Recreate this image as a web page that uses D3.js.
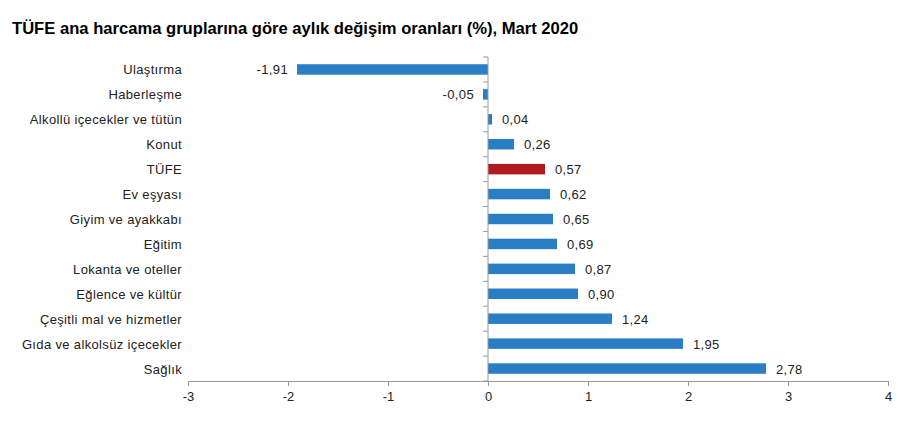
<!DOCTYPE html>
<html><head><meta charset="utf-8">
<script src="https://cdn.jsdelivr.net/npm/d3@7"></script>
<style>body{margin:0;background:#fff}svg{display:block}</style>
</head><body>
<svg id="c" width="908" height="421"></svg>
<script>
const categories = ["Ulaştırma","Haberleşme","Alkollü içecekler ve tütün","Konut","TÜFE","Ev eşyası","Giyim ve ayakkabı","Eğitim","Lokanta ve oteller","Eğlence ve kültür","Çeşitli mal ve hizmetler","Gıda ve alkolsüz içecekler","Sağlık"];
const values = [-1.91,-0.05,0.04,0.26,0.57,0.62,0.65,0.69,0.87,0.90,1.24,1.95,2.78];
const xTicks = [-3,-2,-1,0,1,2,3,4];
const title = "TÜFE ana harcama gruplarına göre aylık değişim oranları (%), Mart 2020";

const svg = d3.select("#c");
const font = "'Liberation Sans', Arial, sans-serif";
const fs = 13;
const ls = "0.35px";
const x = d3.scaleLinear().domain([-3,4]).range([188,888]);
const y = d3.scaleBand().domain(categories).range([57,381]).paddingInner(0.58).paddingOuter(0.29);

svg.append("text").attr("x",12).attr("y",34).attr("font-family",font).attr("font-weight","bold")
  .attr("font-size",16.6).attr("fill","#000").text(title);

// bars
svg.selectAll("rect.bar").data(values).join("rect")
  .attr("x",d=>x(Math.min(0,d))).attr("width",d=>Math.abs(x(d)-x(0)))
  .attr("y",(d,i)=>y(categories[i])).attr("height",y.bandwidth())
  .attr("fill",(d,i)=>categories[i]==="TÜFE"?"#B0191E":"#2A7FC4");

// value labels
const fmt = v => v.toFixed(2).replace(".",",");
svg.selectAll("text.val").data(values).join("text")
  .attr("x",d=>d<0?x(d)-9:x(d)+10)
  .attr("y",(d,i)=>y(categories[i])+y.bandwidth()/2+5)
  .attr("text-anchor",d=>d<0?"end":"start")
  .attr("font-family",font).attr("font-size",fs).attr("letter-spacing",ls).attr("fill","#222")
  .text(fmt);

// category labels
svg.selectAll("text.cat").data(categories).join("text")
  .attr("x",182).attr("y",d=>y(d)+y.bandwidth()/2+5)
  .attr("text-anchor","end").attr("font-family",font).attr("font-size",fs).attr("letter-spacing",ls).attr("fill","#222")
  .text(d=>d);

// x axis
const xa = svg.append("g").attr("transform","translate(0,381)")
  .call(d3.axisBottom(x).tickValues(xTicks).tickSize(5).tickFormat(d=>d));
xa.select(".domain").attr("stroke","#999");
xa.selectAll(".tick line").attr("stroke","#999");
xa.selectAll(".tick text").attr("font-family",font).attr("font-size",fs).attr("fill","#222").attr("dy","0.9em");

// y axis at zero with ticks at band boundaries
const step = y.step();
const bounds = d3.range(categories.length+1).map(i=>57+i*step);
svg.append("line").attr("x1",x(0)).attr("x2",x(0)).attr("y1",57).attr("y2",381).attr("stroke","#999");
svg.selectAll("line.yt").data(bounds).join("line")
  .attr("x1",x(0)-5).attr("x2",x(0)).attr("y1",d=>d).attr("y2",d=>d).attr("stroke","#999");
</script>
</body></html>
